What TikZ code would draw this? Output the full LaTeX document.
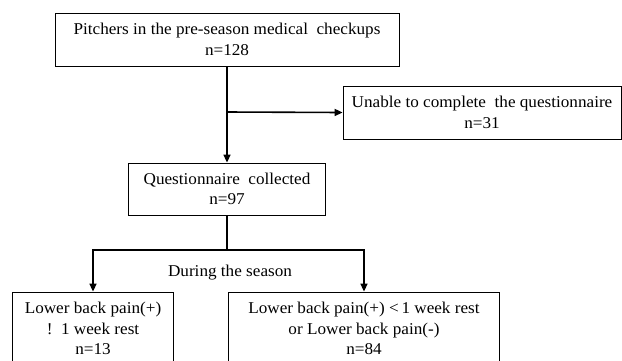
\documentclass[tikz,border=0pt]{standalone}
\usepackage{fontspec}
\setmainfont[FakeStretch=1.04]{Liberation Serif}
\usetikzlibrary{arrows.meta}
\begin{document}
\begin{tikzpicture}[x=1pt,y=-1pt,
  box/.style={draw,line width=0.8pt,align=center,inner sep=0pt,
    font=\fontsize{16.5}{20.5}\selectfont},
  conn/.style={line width=1.6pt,-{Triangle[length=8pt,width=7pt]}},
  plain/.style={line width=1.6pt}]
\useasboundingbox (0,0) rectangle (622,360);
\clip (0,0) rectangle (622,360);
\node[box,minimum width=344pt,minimum height=53pt] (top) at (227,39.5)
  {Pitchers in the pre-season medical~ checkups\\n=128};
\node[box,minimum width=278pt,minimum height=53pt] (unable) at (482,112.5)
  {Unable to complete~ the questionnaire\\n=31};
\node[box,minimum width=197pt,minimum height=52pt] (q) at (227,189)
  {Questionnaire~ collected\\n=97};
\node[box,minimum width=161pt,minimum height=73pt] (lb) at (93,328.5)
  {Lower back pain(+)\\!\ \ 1 week rest\\n=13};
\node[box,minimum width=271pt,minimum height=73pt] (rb) at (364,328.5)
  {Lower back pain(+) <\,1 week rest\\or Lower back pain(-)\\n=84};
\node[font=\fontsize{16.5}{20.5}\selectfont] (season) at (230,273) {During the season};
\coordinate (br1) at (227,112);
\coordinate (br2) at (227,250);
\draw[conn] (top.south) -- (q.north);
\draw[conn] (br1) -- (unable.west);
\draw[plain] (q.south) -- (br2);
\draw[conn] (br2) -| (lb.north);
\draw[conn] (br2) -| (rb.north);
\end{tikzpicture}
\end{document}
